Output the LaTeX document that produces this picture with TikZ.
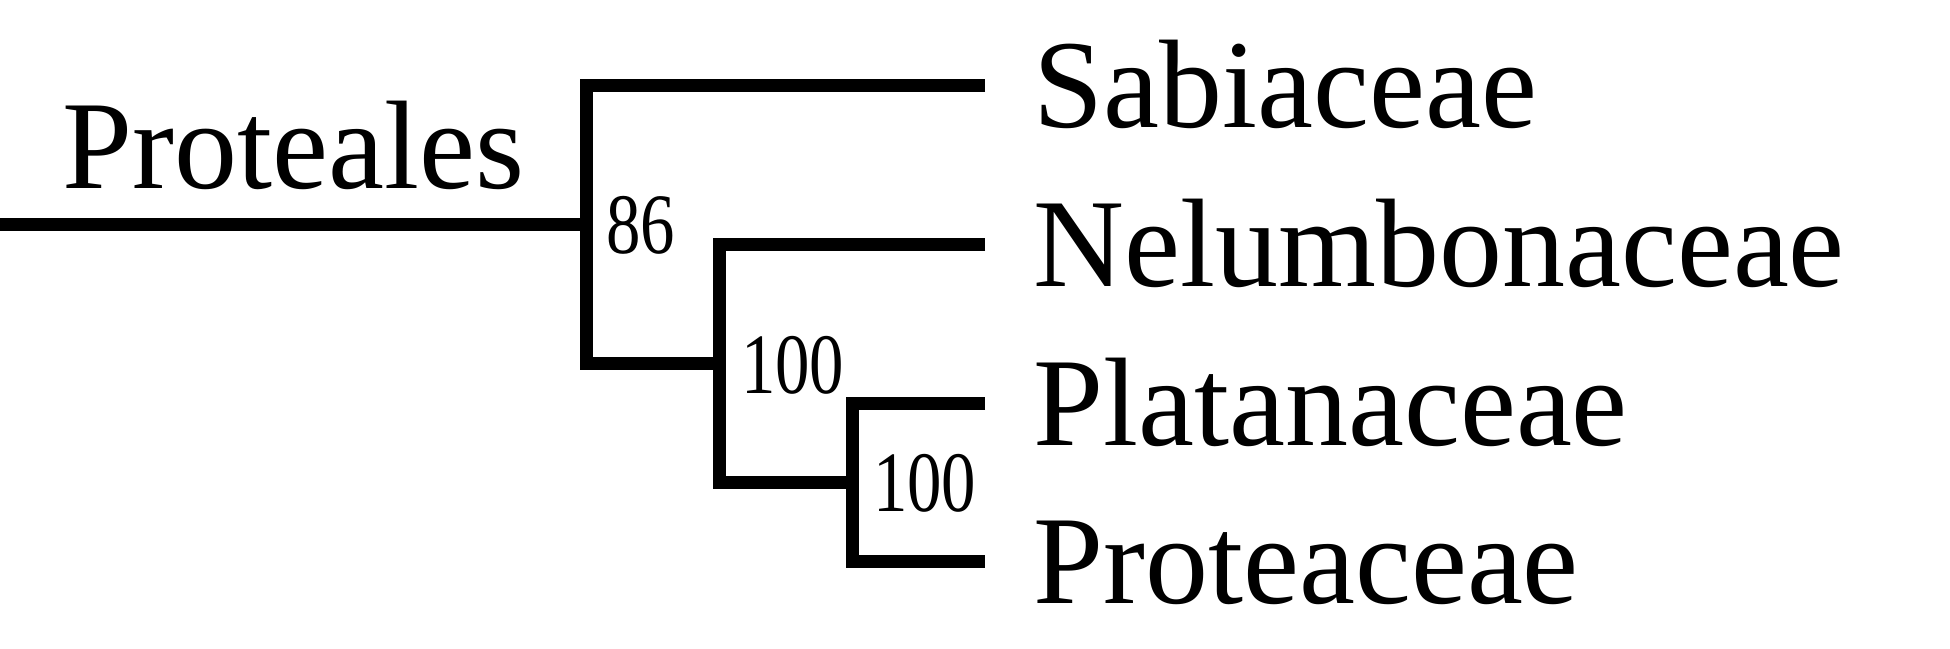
\documentclass[tikz,border=0pt]{standalone}
\usepackage{fontspec}
\setmainfont{Liberation Serif}
\begin{document}
\begin{tikzpicture}[x=1pt,y=-1pt,
  branch/.style={line width=13.3pt, line join=miter, line cap=butt},
  taxon/.style={anchor=base west, inner sep=0pt, font=\fontsize{126}{126}\selectfont},
  support/.style={anchor=base west, inner sep=0pt, font=\fontsize{86}{86}\selectfont, xscale=0.8}]
\useasboundingbox (0,0) rectangle (1950,648);
% tree coordinates
\coordinate (root) at (0,224.4);
\coordinate (n1) at (586.7,224.4);
\coordinate (n2) at (719.3,363.3);
\coordinate (n3) at (852.3,482.3);
\coordinate (tS) at (985,85.5);
\coordinate (tN) at (985,244.3);
\coordinate (tPl) at (985,403.3);
\coordinate (tPr) at (985,561.7);
% branches
\draw[branch] (root) -- (n1);
\draw[branch] (tS) -- (n1 |- tS) -- (n1 |- n2) -- (n2);
\draw[branch] (tN) -- (n2 |- tN) -- (n2 |- n3) -- (n3);
\draw[branch] (tPl) -- (n3 |- tPl) -- (n3 |- tPr) -- (tPr);
% labels
\node[taxon] (ordo) at (62,188) {Proteales};
\node[taxon] (sab) at (1033,127) {Sabiaceae};
\node[taxon] (nel) at (1033,286) {Nelumbonaceae};
\node[taxon] (pla) at (1033,445) {Platanaceae};
\node[taxon] (prc) at (1033,603.5) {Proteaceae};
\node[support] (b1) at (606,253.3) {86};
\node[support] (b2) at (741,393.3) {100};
\node[support] (b3) at (873,511.7) {100};
\end{tikzpicture}
\end{document}
